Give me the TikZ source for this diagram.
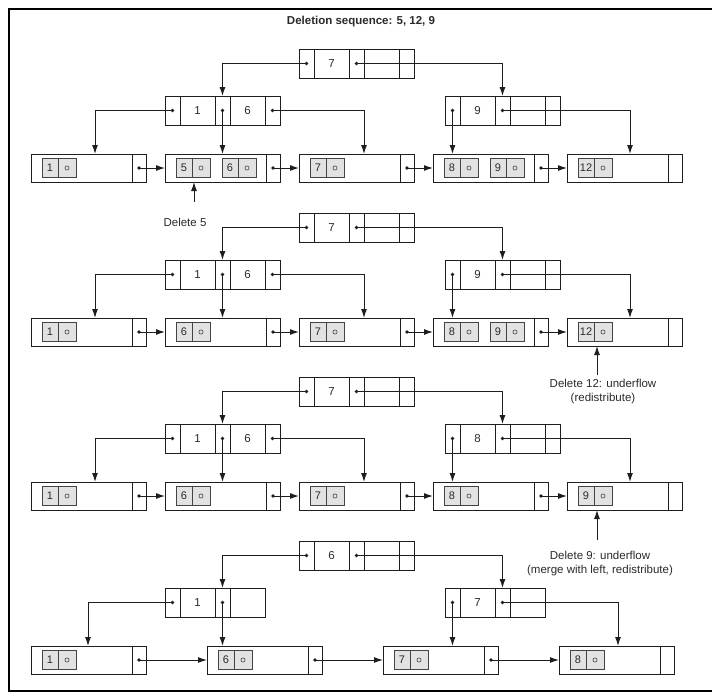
\documentclass[tikz,border=0pt]{standalone}
\usepackage{fontspec}
\setmainfont{Liberation Sans}
\usetikzlibrary{arrows.meta}
\definecolor{ln}{HTML}{1E1E1E}
\definecolor{ef}{HTML}{E2E2E2}
\definecolor{eb}{HTML}{444444}
\definecolor{tx}{HTML}{2A2A2A}
\tikzset{
 cellbase/.style={draw=ln, line width=0.85pt, inner sep=0pt, outer sep=0pt, minimum height=29pt, text=tx, font=\fontsize{11.5}{13}\selectfont},
 pcell/.style={cellbase, minimum width=15pt},
 kcell/.style={cellbase, minimum width=35pt},
 lmain/.style={cellbase, minimum width=101pt, minimum height=28pt},
 lptr/.style={cellbase, minimum width=14pt, minimum height=28pt},
 ekey/.style={draw=eb, fill=ef, line width=0.7pt, inner sep=0pt, outer sep=0pt, minimum width=16pt, minimum height=19pt, text=tx, font=\fontsize{11}{12}\selectfont},
 eptr/.style={ekey, minimum width=18pt},
 arr/.style={draw=ln, line width=1pt, -{Latex[length=9pt,width=6pt]}},
 ann/.style={text=tx, font=\fontsize{11.5}{14}\selectfont, inner sep=0pt, align=center},
}
\newcommand\inodeF[5]{%
 \node[pcell, anchor=north west] (#1-p1) at (#2,#3) {};
 \node[kcell, anchor=west] (#1-k1) at (#1-p1.east) {#4};
 \node[pcell, anchor=west] (#1-p2) at (#1-k1.east) {};
 \node[kcell, anchor=west] (#1-k2) at (#1-p2.east) {#5};
 \node[pcell, anchor=west] (#1-p3) at (#1-k2.east) {};
}
\newcommand\inodeV[4]{%
 \node[pcell, anchor=north west] (#1-p1) at (#2,#3) {};
 \node[kcell, anchor=west] (#1-k1) at (#1-p1.east) {#4};
 \node[pcell, anchor=west] (#1-p2) at (#1-k1.east) {};
 \node[kcell, anchor=west] (#1-k2) at (#1-p2.east) {};
}
\newcommand\leafnode[4]{%
 \node[lmain, anchor=north west] (#1) at (#2,#3) {};
 \node[lptr, anchor=west] (#1-p) at (#1.east) {};
 \node[ekey, anchor=west] (#1-k1) at ([xshift=11pt]#1.west) {#4};
 \node[eptr, anchor=west] (#1-q1) at (#1-k1.east) {};
 \draw[eb, line width=0.6pt] (#1-q1.center) circle (2.1pt);
}
\newcommand\leafsecond[2]{%
 \node[ekey, anchor=west] (#1-k2) at ([xshift=57pt]#1.west) {#2};
 \node[eptr, anchor=west] (#1-q2) at (#1-k2.east) {};
 \draw[eb, line width=0.6pt] (#1-q2.center) circle (2.1pt);
}
\newcommand\pdot[1]{\fill[ln] (#1.center) circle (1.8pt);}
\newcommand\upper[1]{%
 \draw[arr] (#1r-p1.center) -| (#1l-p2.north);
 \draw[arr] (#1r-p2.center) -| (#1s-p2.north);
 \pdot{#1r-p1}\pdot{#1r-p2}
}
\newcommand\lowerfive[1]{%
 \draw[arr] (#1l-p1.center) -| ([xshift=64pt]#1a.north west);
 \draw[arr] (#1l-p2.center) -- (#1l-p2.center |- #1b.north);
 \draw[arr] (#1l-p3.center) -| ([xshift=65pt]#1c.north west);
 \draw[arr] (#1s-p1.center) -- (#1s-p1.center |- #1d.north);
 \draw[arr] (#1s-p2.center) -| ([xshift=63pt]#1e.north west);
 \draw[arr] (#1a-p.center) -- (#1b.west);
 \draw[arr] (#1b-p.center) -- (#1c.west);
 \draw[arr] (#1c-p.center) -- (#1d.west);
 \draw[arr] (#1d-p.center) -- (#1e.west);
 \pdot{#1l-p1}\pdot{#1l-p2}\pdot{#1l-p3}\pdot{#1s-p1}\pdot{#1s-p2}
 \pdot{#1a-p}\pdot{#1b-p}\pdot{#1c-p}\pdot{#1d-p}
}
\begin{document}
\begin{tikzpicture}[x=1pt,y=-1pt]
\useasboundingbox (0,0) rectangle (712,697);
\draw[black, line width=2pt] (712,9) -- (9,9) -- (9,691) -- (712,691);
\node[text=tx, font=\bfseries\fontsize{11.5}{13}\selectfont] (title) at (361,22) {Deletion sequence: 5, 12, 9};

% ---------- tree 1
\inodeF{Ar}{299}{49}{7}{}
\inodeF{Al}{165}{96}{1}{6}
\inodeF{As}{445}{96}{9}{}
\leafnode{Aa}{31}{154}{1}
\leafnode{Ab}{165}{154}{5}\leafsecond{Ab}{6}
\leafnode{Ac}{299}{154}{7}
\leafnode{Ad}{433}{154}{8}\leafsecond{Ad}{9}
\leafnode{Ae}{567}{154}{12}
\upper{A}\lowerfive{A}
\node[ann] (d5) at (185,222) {Delete 5};
\coordinate (d5a) at (194,202);
\draw[arr] (d5a) -- (d5a |- Ab.south);

% ---------- tree 2
\inodeF{Br}{299}{213}{7}{}
\inodeF{Bl}{165}{260}{1}{6}
\inodeF{Bs}{445}{260}{9}{}
\leafnode{Ba}{31}{318}{1}
\leafnode{Bb}{165}{318}{6}
\leafnode{Bc}{299}{318}{7}
\leafnode{Bd}{433}{318}{8}\leafsecond{Bd}{9}
\leafnode{Be}{567}{318}{12}
\upper{B}\lowerfive{B}
\node[ann] (d12) at (603,392) {Delete 12: underflow\\(redistribute)};
\coordinate (d12a) at (597,375);
\draw[arr] (d12a) -- (d12a |- Be.south);

% ---------- tree 3
\inodeF{Cr}{299}{377}{7}{}
\inodeF{Cl}{165}{424}{1}{6}
\inodeF{Cs}{445}{424}{8}{}
\leafnode{Ca}{31}{482}{1}
\leafnode{Cb}{165}{482}{6}
\leafnode{Cc}{299}{482}{7}
\leafnode{Cd}{433}{482}{8}
\leafnode{Ce}{567}{482}{9}
\upper{C}\lowerfive{C}
\node[ann] (d9) at (600,564) {Delete 9: underflow\\(merge with left, redistribute)};
\coordinate (d9a) at (597,540);
\draw[arr] (d9a) -- (d9a |- Ce.south);

% ---------- tree 4
\inodeF{Dr}{299}{541}{6}{}
\inodeV{Dl}{165}{588}{1}
\inodeV{Ds}{445}{588}{7}
\leafnode{Da}{31}{646}{1}
\leafnode{Db}{207}{646}{6}
\leafnode{Dc}{383}{646}{7}
\leafnode{Dd}{559}{646}{8}
\upper{D}
\draw[arr] (Dl-p1.center) -| ([xshift=57pt]Da.north west);
\draw[arr] (Dl-p2.center) -- (Dl-p2.center |- Db.north);
\draw[arr] (Ds-p1.center) -- (Ds-p1.center |- Dc.north);
\draw[arr] (Ds-p2.center) -| ([xshift=59pt]Dd.north west);
\draw[arr] (Da-p.center) -- (Db.west);
\draw[arr] (Db-p.center) -- (Dc.west);
\draw[arr] (Dc-p.center) -- (Dd.west);
\pdot{Dl-p1}\pdot{Dl-p2}\pdot{Ds-p1}\pdot{Ds-p2}
\pdot{Da-p}\pdot{Db-p}\pdot{Dc-p}
\end{tikzpicture}
\end{document}
